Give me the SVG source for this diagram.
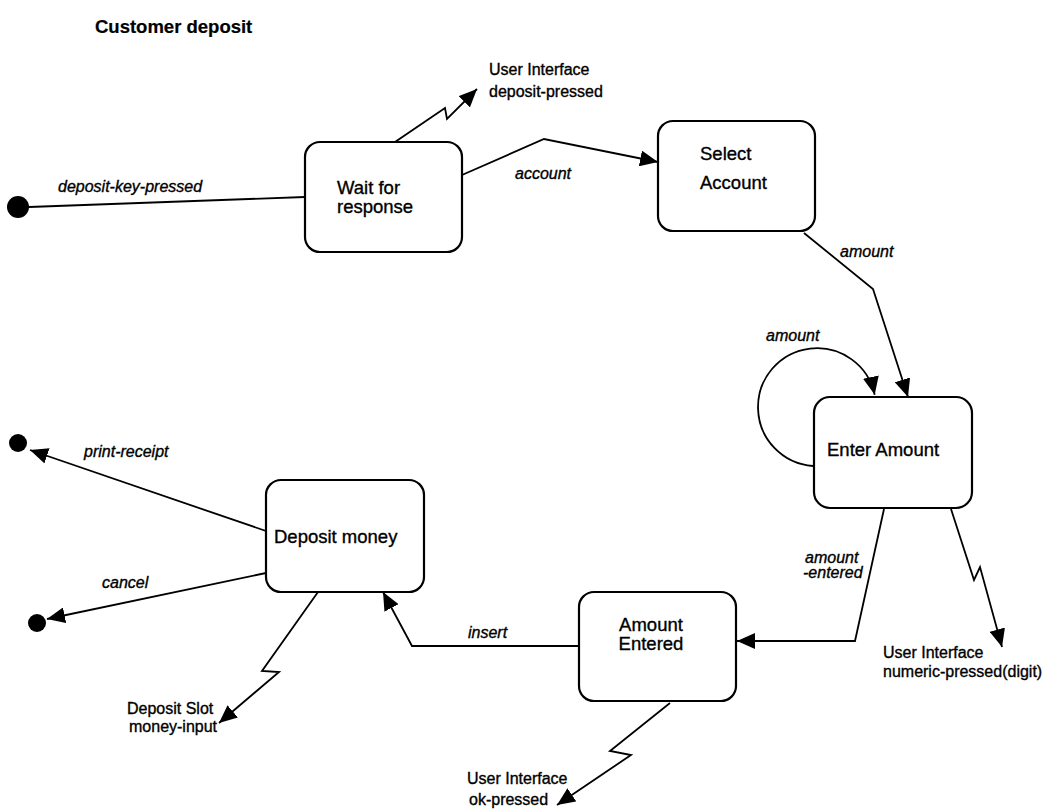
<svg xmlns="http://www.w3.org/2000/svg" width="1052" height="811" viewBox="0 0 1052 811">
<style>
  .node rect { fill: #fff; stroke: #000; stroke-width: 2.2; }
  text { font-family: "Liberation Sans", Arial, sans-serif; fill: #000; stroke: #000; stroke-width: 0.35; }
  .name { font-size: 18.5px; }
  .lbl { font-size: 16px; }
  .ev { font-size: 16px; font-style: italic; }
  .title { font-size: 18.5px; font-weight: bold; stroke-width: 0.2; }
  .conn { fill: none; stroke: #000; stroke-width: 1.8; stroke-linejoin: miter; }
  .dot { fill: #000; }
</style>
<defs>
  <marker id="arrow" markerUnits="userSpaceOnUse" markerWidth="20" markerHeight="16" refX="18" refY="8" orient="auto">
    <path d="M0,0 L18,8 L0,16 z" fill="#000"/>
  </marker>
</defs>
<rect width="1052" height="811" fill="#fff"/>
<text class="title" x="95" y="33">Customer deposit</text>

<g id="connectors">
  <path class="conn" d="M29,207 L305,197"/>
  <path class="conn" d="M395,142 L445,108 L447,119 L477,89" marker-end="url(#arrow)"/>
  <path class="conn" d="M462,175 L544,139 L658,162" marker-end="url(#arrow)"/>
  <path class="conn" d="M804,233 L873,289 L908,397" marker-end="url(#arrow)"/>
  <path class="conn" d="M813,466 A59,59 0 1 1 874.7,394.7" stroke-width="1.4" marker-end="url(#arrow)"/>
  <path class="conn" d="M884,509 L855,641 L737,641" marker-end="url(#arrow)"/>
  <path class="conn" d="M951,509 L974,580 L980,567 L1002,647" marker-end="url(#arrow)"/>
  <path class="conn" d="M579,646 L412,646 L383,592" marker-end="url(#arrow)"/>
  <path class="conn" d="M670,703 L610,751 L631,755 L557,805" marker-end="url(#arrow)"/>
  <path class="conn" d="M318,592 L262,671 L279,672 L219,723" marker-end="url(#arrow)"/>
  <path class="conn" d="M266,531 L30,450" marker-end="url(#arrow)"/>
  <path class="conn" d="M266,573 L47,619" marker-end="url(#arrow)"/>

  <text class="ev" x="58" y="192">deposit-key-pressed</text>
  <text class="lbl" x="489" y="75">User Interface</text>
  <text class="lbl" x="489" y="97">deposit-pressed</text>
  <text class="ev" x="515" y="179">account</text>
  <text class="ev" x="840" y="257">amount</text>
  <text class="ev" x="766" y="341">amount</text>
  <text class="ev" x="805" y="563">amount</text>
  <text class="ev" x="803" y="578">-entered</text>
  <text class="lbl" x="883" y="658">User Interface</text>
  <text class="lbl" x="883" y="677">numeric-pressed(digit)</text>
  <text class="ev" x="468" y="638">insert</text>
  <text class="lbl" x="467" y="784">User Interface</text>
  <text class="lbl" x="469" y="805">ok-pressed</text>
  <text class="lbl" x="127" y="714">Deposit Slot</text>
  <text class="lbl" x="129" y="732">money-input</text>
  <text class="ev" x="84" y="457">print-receipt</text>
  <text class="ev" x="102" y="588">cancel</text>
</g>

<g id="start">
  <circle class="dot" cx="18" cy="207" r="11"/>
</g>
<g id="end-receipt">
  <circle class="dot" cx="18" cy="443" r="9"/>
</g>
<g id="end-cancel">
  <circle class="dot" cx="37" cy="623" r="9"/>
</g>

<g id="wait-for-response" class="node">
  <rect x="305" y="142" width="157" height="110" rx="15"/>
  <text class="name" x="337" y="194">Wait for</text>
  <text class="name" x="337" y="213">response</text>
</g>
<g id="select-account" class="node">
  <rect x="658" y="121" width="157" height="110" rx="15"/>
  <text class="name" x="700" y="160">Select</text>
  <text class="name" x="700" y="189">Account</text>
</g>
<g id="enter-amount" class="node">
  <rect x="814" y="397" width="158" height="111" rx="16"/>
  <text class="name" x="827" y="456">Enter Amount</text>
</g>
<g id="amount-entered" class="node">
  <rect x="579" y="592" width="157" height="109" rx="15"/>
  <text class="name" x="651" y="631" text-anchor="middle">Amount</text>
  <text class="name" x="651" y="650" text-anchor="middle">Entered</text>
</g>
<g id="deposit-money" class="node">
  <rect x="266" y="480" width="158" height="112" rx="15"/>
  <text class="name" x="274" y="543">Deposit money</text>
</g>
</svg>
